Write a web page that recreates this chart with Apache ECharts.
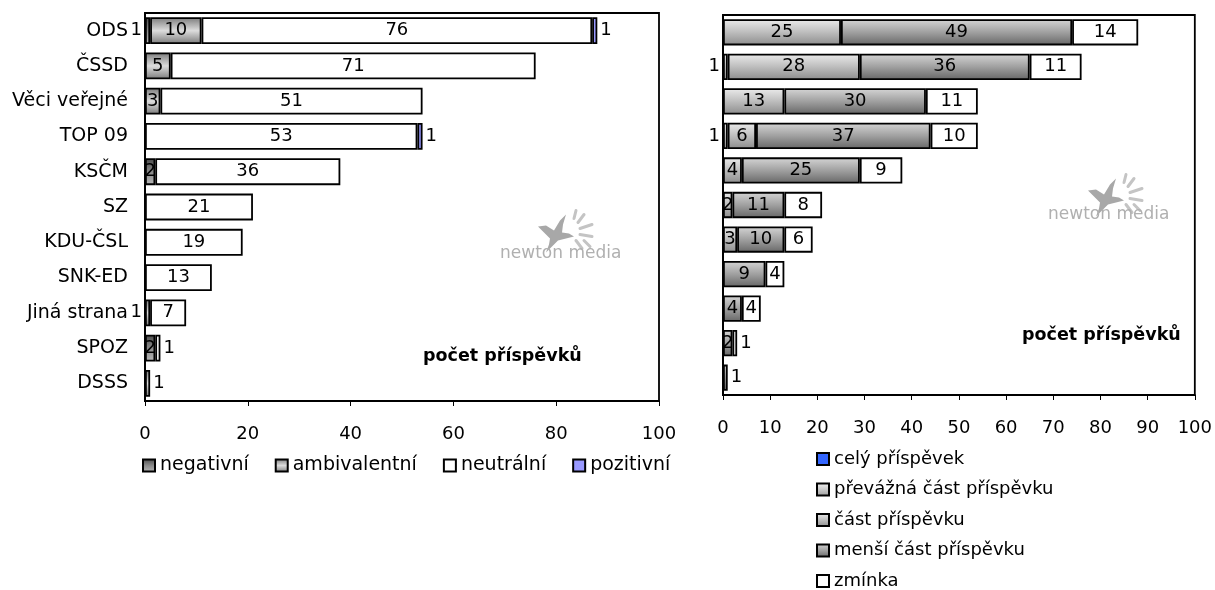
<!DOCTYPE html>
<html>
<head>
<meta charset="utf-8">
<script src="https://cdn.jsdelivr.net/npm/echarts@6/dist/echarts.min.js"></script>
<style>
html,body{margin:0;padding:0;background:#fff}
#chart{width:1215px;height:590px}
</style>
</head>
<body>
<div id="chart"></div>
<script>
// strany (kategorie)
var parties = ['ODS', 'ČSSD', 'Věci veřejné', 'TOP 09', 'KSČM', 'SZ', 'KDU-ČSL', 'SNK-ED', 'Jiná strana', 'SPOZ', 'DSSS'];

// levý graf - vyznění
var negativni     = [1, 0, 0, 0, 2, 0, 0, 0, 0, 2, 0];
var ambivalentni  = [10, 5, 3, 0, 0, 0, 0, 0, 1, 0, 1];
var neutralni     = [76, 71, 51, 53, 36, 21, 19, 13, 7, 1, 0];
var pozitivni     = [1, 0, 0, 1, 0, 0, 0, 0, 0, 0, 0];

// pravý graf - rozsah zmínky
var celyPrispevek   = [0, 0, 0, 0, 0, 0, 0, 0, 0, 0, 0];
var prevaznaCast    = [0, 1, 0, 1, 0, 0, 0, 0, 0, 0, 0];
var castPrispevku   = [25, 28, 13, 6, 4, 2, 3, 0, 0, 0, 0];
var mensiCast       = [49, 36, 30, 37, 25, 11, 10, 9, 4, 2, 1];
var zminka          = [14, 11, 11, 10, 9, 8, 6, 4, 4, 1, 0];

var leftTicks = [0, 20, 40, 60, 80, 100];
var rightTicks = [0, 10, 20, 30, 40, 50, 60, 70, 80, 90, 100];

var FONT = 'DejaVu Sans';
var FS = 18;
var myChart = echarts.init(document.getElementById('chart'));

function grad(stops) {
    return new echarts.graphic.LinearGradient(0, 0, 0, 1, stops.map(function (c, i) {
        return { offset: i / (stops.length - 1), color: c };
    }));
}

// sestaví sérii; popisky "1" u malých segmentů jdou ven z baru
function mkSeries(name, values, stackList, color, idx) {
    var data = values.map(function (v, i) {
        if (!v) return '-';
        if (v > 1) return v;
        var me = stackList.indexOf(values);
        var later = false;
        for (var k = me + 1; k < stackList.length; k++) {
            if (stackList[k][i]) later = true;
        }
        return { value: v, label: { position: later ? 'left' : 'right', distance: 3 } };
    });
    return {
        name: name,
        type: 'bar',
        stack: 's' + idx,
        xAxisIndex: idx,
        yAxisIndex: idx,
        barWidth: '76%',
        itemStyle: { color: color, borderColor: '#000', borderWidth: 1.8 },
        label: {
            show: true,
            position: 'inside',
            color: '#000',
            fontFamily: FONT,
            fontSize: FS
        },
        emphasis: { disabled: true },
        data: data
    };
}

var leftStack = [negativni, ambivalentni, neutralni, pozitivni];
var rightStack = [celyPrispevek, prevaznaCast, castPrispevku, mensiCast, zminka];

var cNeg = grad(['#4a4a4a', '#8a8a8a', '#b8b8b8']);
var cAmb = grad(['#7a7a7a', '#dcdcdc', '#7a7a7a']);
var cPrev = grad(['#f4f4f4', '#c8c8c8', '#9a9a9a']);
var cCast = grad(['#ececec', '#bdbdbd', '#8c8c8c']);
var cMensi = grad(['#d6d6d6', '#a0a0a0', '#666666']);

function xAxis(idx, ticks) {
    return {
        type: 'value',
        gridIndex: idx,
        min: ticks[0],
        max: ticks[ticks.length - 1],
        interval: ticks[1] - ticks[0],
        splitLine: { show: false },
        axisLine: { show: true, lineStyle: { color: '#000', width: 1.8 } },
        axisTick: { show: true, length: 5, lineStyle: { color: '#000' } },
        axisLabel: { color: '#000', fontFamily: FONT, fontSize: FS, margin: 24 }
    };
}

function yAxis(idx, showLabels) {
    return {
        type: 'category',
        gridIndex: idx,
        inverse: true,
        data: parties,
        axisLine: { show: true, lineStyle: { color: '#000', width: 1.8 } },
        axisTick: { show: false },
        axisLabel: { show: showLabels, color: '#000', fontFamily: FONT, fontSize: 19, margin: 17 }
    };
}

// logo newton media (vodoznak)
function logo(x, y) {
    var g = { type: 'group', left: x, top: y, silent: true, children: [] };
    g.children.push({
        type: 'polygon',
        shape: { points: [[0, 12], [8, 11], [16, 16], [22, 6], [28, 0], [25, 10], [24, 18], [31, 19], [36, 22], [28, 24], [20, 26], [14, 32], [8, 38], [11, 30], [12, 24], [6, 18]] },
        style: { fill: '#a8a8a8' }
    });
    var rays = [[40, 8, 46, 0], [42, 14, 54, 10], [42, 20, 54, 22], [38, 26, 44, 34], [36, 4, 38, -4], [46, 26, 52, 32]];
    rays.forEach(function (r) {
        g.children.push({
            type: 'line',
            shape: { x1: r[0], y1: r[1], x2: r[2], y2: r[3] },
            style: { stroke: '#c4c4c4', lineWidth: 3, lineCap: 'round' }
        });
    });
    return g;
}

var option = {
    animation: false,
    grid: [
        { left: 145, right: 556, top: 13, bottom: 189, show: true, borderColor: '#000', borderWidth: 1.8 },
        { left: 723, right: 17, top: 15, bottom: 195, show: true, borderColor: '#000', borderWidth: 1.8 }
    ],
    xAxis: [xAxis(0, leftTicks), xAxis(1, rightTicks)],
    yAxis: [yAxis(0, true), yAxis(1, false)],
    legend: [
        {
            data: ['negativní', 'ambivalentní', 'neutrální', 'pozitivní'],
            left: 142, top: 456,
            padding: 0,
            orient: 'horizontal',
            itemWidth: 12, itemHeight: 12, itemGap: 26,
            icon: 'rect',
            textStyle: { color: '#000', fontFamily: FONT, fontSize: 19 }
        },
        {
            data: ['celý příspěvek', 'převážná část příspěvku', 'část příspěvku', 'menší část příspěvku', 'zmínka'],
            left: 816, top: 450, bottom: 0,
            padding: 0,
            orient: 'vertical',
            itemWidth: 12, itemHeight: 12, itemGap: 12.5,
            icon: 'rect',
            textStyle: { color: '#000', fontFamily: FONT, fontSize: FS }
        }
    ],
    graphic: [
        { type: 'text', left: 423, top: 347, style: { text: 'počet příspěvků', font: 'bold 17.5px "' + FONT + '"', fill: '#000' } },
        { type: 'text', left: 1022, top: 326, style: { text: 'počet příspěvků', font: 'bold 17.5px "' + FONT + '"', fill: '#000' } },
        logo(538, 208),
        logo(1088, 172),
        { type: 'text', left: 500, top: 245, style: { text: 'newton media', font: '17px "' + FONT + '"', fill: '#b0b0b0' } },
        { type: 'text', left: 1048, top: 206, style: { text: 'newton media', font: '17px "' + FONT + '"', fill: '#b0b0b0' } }
    ],
    series: [
        mkSeries('negativní', negativni, leftStack, cNeg, 0),
        mkSeries('ambivalentní', ambivalentni, leftStack, cAmb, 0),
        mkSeries('neutrální', neutralni, leftStack, '#ffffff', 0),
        mkSeries('pozitivní', pozitivni, leftStack, '#9999ff', 0),
        mkSeries('celý příspěvek', celyPrispevek, rightStack, '#3366ff', 1),
        mkSeries('převážná část příspěvku', prevaznaCast, rightStack, cPrev, 1),
        mkSeries('část příspěvku', castPrispevku, rightStack, cCast, 1),
        mkSeries('menší část příspěvku', mensiCast, rightStack, cMensi, 1),
        mkSeries('zmínka', zminka, rightStack, '#ffffff', 1)
    ]
};

myChart.setOption(option);
</script>
</body>
</html>
